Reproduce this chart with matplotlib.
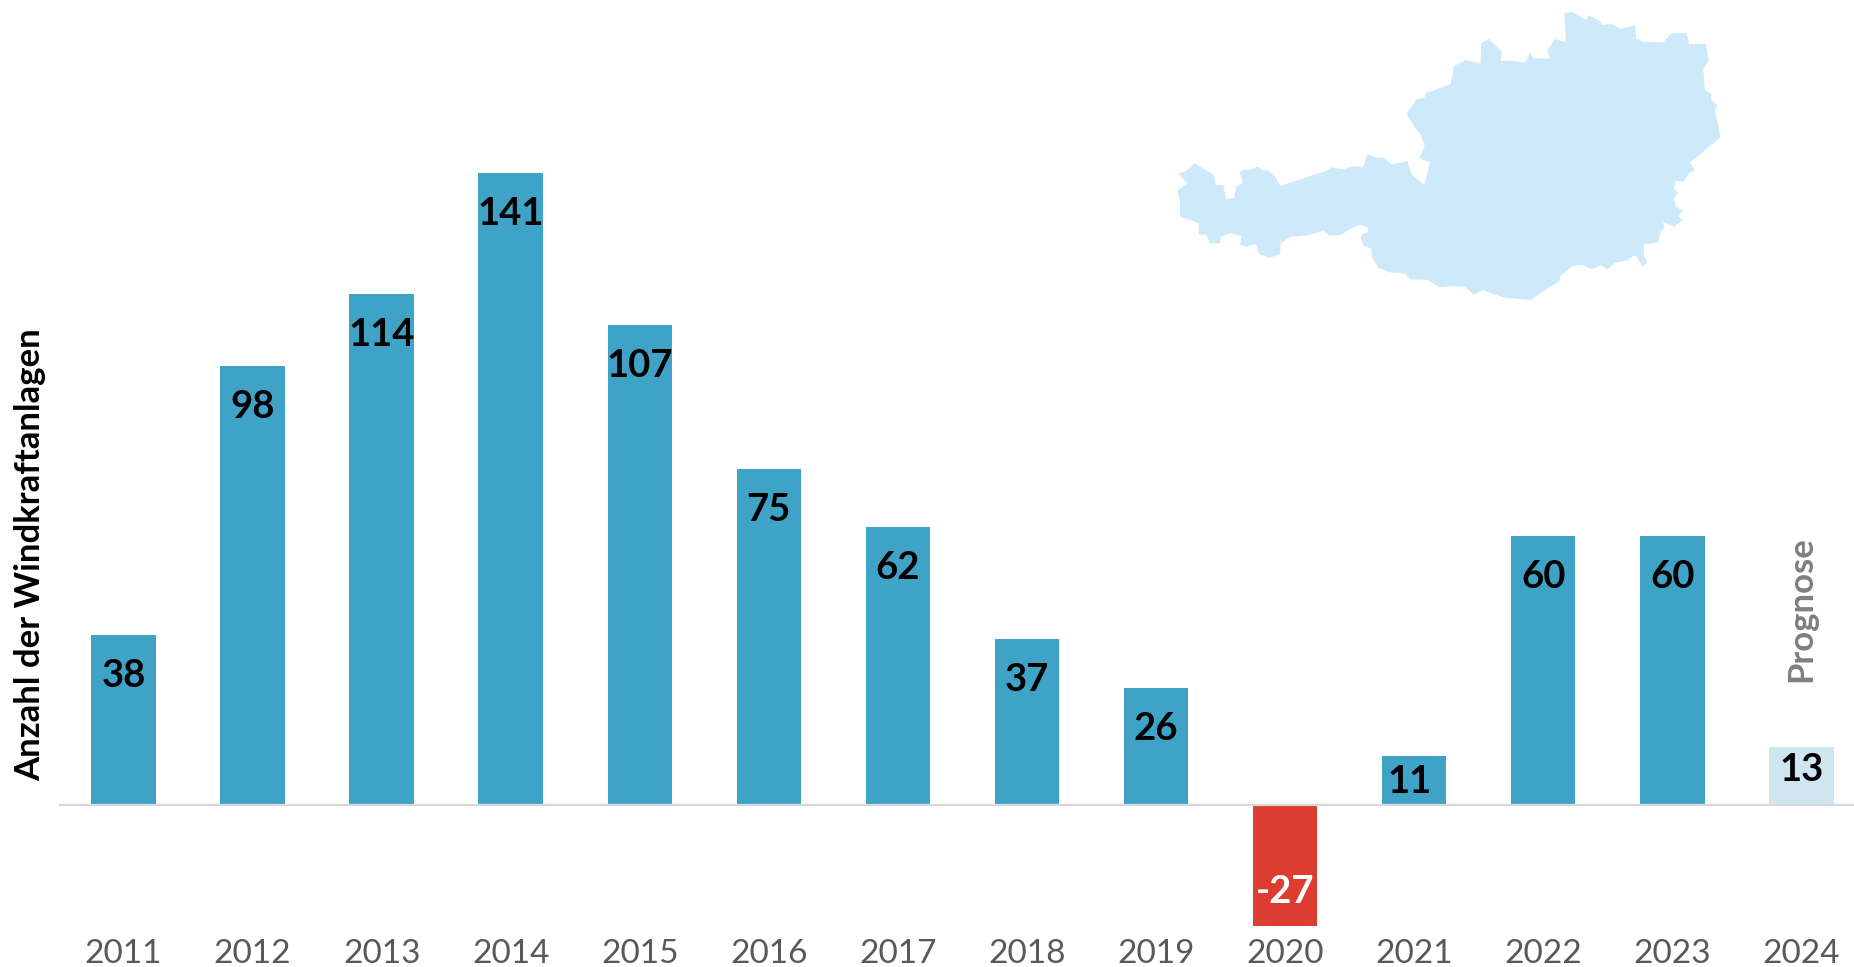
import matplotlib
matplotlib.use("Agg")
import matplotlib.pyplot as plt
from matplotlib.patches import Polygon

years = ["2011", "2012", "2013", "2014", "2015", "2016", "2017", "2018", "2019", "2020", "2021", "2022", "2023", "2024"]
values = [38, 98, 114, 141, 107, 75, 62, 37, 26, -27, 11, 60, 60, 13]
ylabel_text = "Anzahl der Windkraftanlagen"
forecast_text = "Prognose"

BLUE = "#3FA3C8"
RED = "#DD3C31"
LIGHT = "#CFE6F1"
MAP = "#CEE9FA"
bar_colors = [RED if v < 0 else BLUE for v in values]
bar_colors[-1] = LIGHT

# Austria silhouette, outline in zoomed-crop units
west_north = [(55,520),(80,512),(102,490),(160,523),(168,555),(190,556),(198,598),(222,594),(228,562),(248,548),(240,518),(248,511),(275,508),(294,499),(305,510),(325,511),(345,530),(362,558),(500,512),(513,502),(548,508),(575,500),(610,500),(622,463),(650,473),(672,473),(695,494),(742,483),(755,523),(793,556),(810,487),(778,475),(794,438),(782,403),(762,380),(740,340),(770,298),(793,293),(798,277)]
east = [(0,275),(62,252),(72,198),(108,180),(152,190),(153,130),(177,117),(216,155),(212,183),(245,182),(287,188),(298,158),(310,175),(360,176),(352,150),(376,117),(408,127),(403,40),(428,36),(467,60),(478,46),(513,65),(515,75),(545,72),(572,87),(616,75),(618,115),(640,125),(700,127),(724,100),(770,99),(778,132),(828,132),(836,182),(820,208),(825,270),(845,283),(843,297),(862,318),(853,335),(865,370),(870,413),(780,488),(794,510),(778,518),(760,545),(738,542),(731,565),(745,577),(732,595),(737,618),(758,632),(745,650),(758,660),(732,680),(700,665),(702,685),(692,695),(686,727),(642,733),(641,765),(652,788),(638,800),(618,768),(608,768),(590,782),(555,788),(534,808),(514,796),(484,808),(455,794),(425,800),(390,830),(388,845),(360,860),(302,900),(222,893),(158,870),(130,884),(105,860),(68,858),(30,862),(0,845)]
west_south = [(805,840),(752,838),(735,820),(690,817),(655,803),(637,775),(633,745),(612,738),(602,715),(606,703),(624,697),(622,682),(600,674),(575,685),(540,706),(510,707),(490,692),(445,706),(392,710),(362,730),(360,762),(330,773),(298,763),(287,731),(262,740),(240,735),(245,708),(212,700),(183,710),(180,730),(150,731),(140,705),(115,703),(118,670),(60,650),(60,605),(52,572),(82,550)]

W, H = 1854, 967
plt.rcParams["font.family"] = ["Lato", "DejaVu Sans"]
fig = plt.figure(figsize=(W / 100, H / 100), dpi=100, facecolor="white")

# axes spanning pixel x 59..1854, pixel y 0..930; baseline at y=805
px_per_unit = 4.482
band = 129.06
ax = fig.add_axes([59 / W, (H - 930) / H, (W - 59) / W, 930 / H])
ax.set_xlim(-0.5, -0.5 + (W - 59) / band)
ax.set_ylim(-(930 - 805) / px_per_unit, 805 / px_per_unit)
ax.patch.set_alpha(0)
for s in ax.spines.values():
    s.set_visible(False)

xs = list(range(len(years)))
ax.bar(xs, values, width=0.5, color=bar_colors, zorder=2)
ax.axhline(0, color="#D9D9D9", lw=1.6, zorder=3)

ax.set_xticks(xs)
ax.set_xticklabels(years, fontsize=24, color="#595959")
ax.tick_params(axis="x", length=0, pad=6.5)
ax.set_yticks([])

for x, v in zip(xs, values):
    if v < 0:
        off, col = 24.5, "white"
        y = v
    elif v < 20:
        off, col = (4 if v == 13 else -1.5), "black"
        y = v / 2
    else:
        off, col = -29.5, "black"
        y = v
    dx = -3.5 if v == 11 else 0
    ax.annotate(str(v), (x, y), xytext=(dx, off), textcoords="offset points",
                ha="center", va="center", fontsize=27.5, fontweight="bold", color=col, zorder=4)

ax.annotate(forecast_text, (13, 13), xytext=(0, 46.5), textcoords="offset points",
            ha="center", va="bottom", rotation=90, fontsize=25, fontweight="bold", color="#7F7F7F")

fig.text(30.5 / W, 1 - 555 / H, ylabel_text, rotation=90, ha="center", va="center",
         fontsize=25, fontweight="bold", color="black")

overlay = fig.add_axes([0, 0, 1, 1], zorder=-1)
overlay.set_xlim(0, W)
overlay.set_ylim(H, 0)
overlay.axis("off")
outline = [(1160 + a / 3, b / 3) for a, b in west_north]
outline += [(1430 + a / 3, b / 3) for a, b in east]
outline += [(1160 + a / 3, b / 3) for a, b in west_south]
overlay.add_patch(Polygon(outline, closed=True, facecolor=MAP, edgecolor="none"))

fig.savefig("out.png", dpi=100, facecolor="white")
